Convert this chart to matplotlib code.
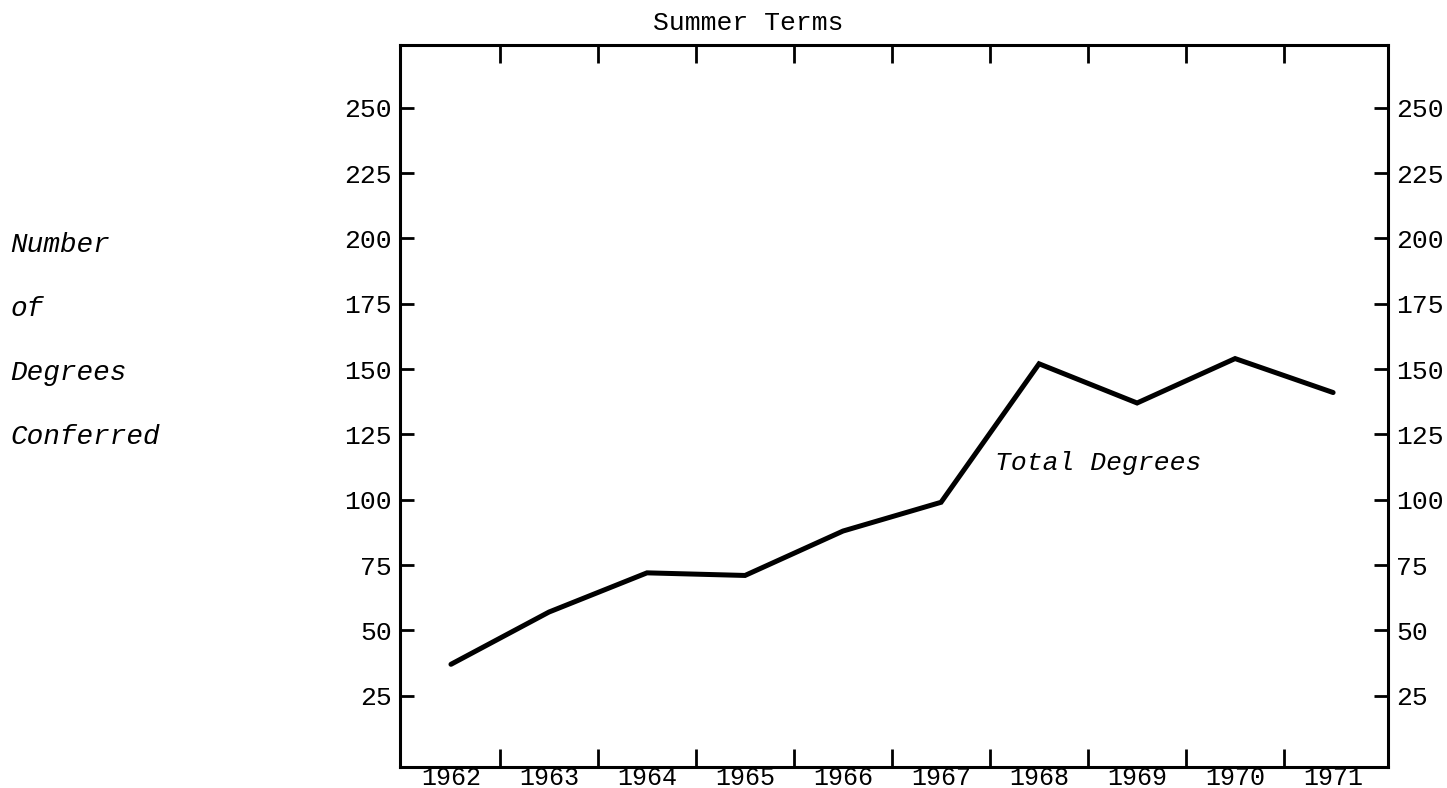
import matplotlib.pyplot as plt
import numpy as np

years = [1962, 1963, 1964, 1965, 1966, 1967, 1968, 1969, 1970, 1971]
total_degrees = [37, 57, 72, 71, 88, 99, 152, 137, 154, 141]
y_ticks = [25, 50, 75, 100, 125, 150, 175, 200, 225, 250]
ylabel_lines = ['Number', 'of', 'Degrees', 'Conferred']

mono = 'Liberation Mono'
fs = 19

fig = plt.figure(figsize=(14.47, 7.88), dpi=100)
ax = fig.add_axes([400 / 1447, 1 - 767 / 788, (1388 - 400) / 1447, (767 - 45) / 788])

ax.plot(years, total_degrees, color='black', lw=3.6, solid_joinstyle='miter', solid_capstyle='round')

ax.set_xlim(1961.48, 1971.56)
ax.set_ylim(-2.3, 274)

# year labels sit between the tick marks
ax.set_xticks(years)
ax.set_xticklabels([str(y) for y in years], fontfamily=mono, fontsize=18)
ax.set_xticks(np.array(years[:-1]) + 0.5, minor=True)
ax.tick_params(axis='x', which='major', length=0, pad=-1)
ax.tick_params(axis='x', which='minor', direction='in', length=13, width=2,
               top=True, bottom=True)

ax.set_yticks(y_ticks)
ax.set_yticklabels([str(v) for v in y_ticks], fontfamily=mono, fontsize=fs)
ax.tick_params(axis='y', which='major', direction='in', length=10, width=2,
               left=True, right=True, labelleft=True, labelright=True, pad=6)

for s in ax.spines.values():
    s.set_linewidth(2.2)

ax.text(1967.55, 114, 'Total Degrees', fontfamily=mono, fontstyle='italic',
        fontsize=fs, ha='left', va='center')

fig.text(748 / 1447, 1 - 23 / 788, 'Summer Terms', fontfamily=mono, fontsize=fs,
         ha='center', va='center')

for i, line in enumerate(ylabel_lines):
    fig.text(10 / 1447, 1 - (245 + 64 * i) / 788, line, fontfamily=mono,
             fontstyle='italic', fontsize=20, ha='left', va='center')

fig.savefig('out.png', dpi=100)
